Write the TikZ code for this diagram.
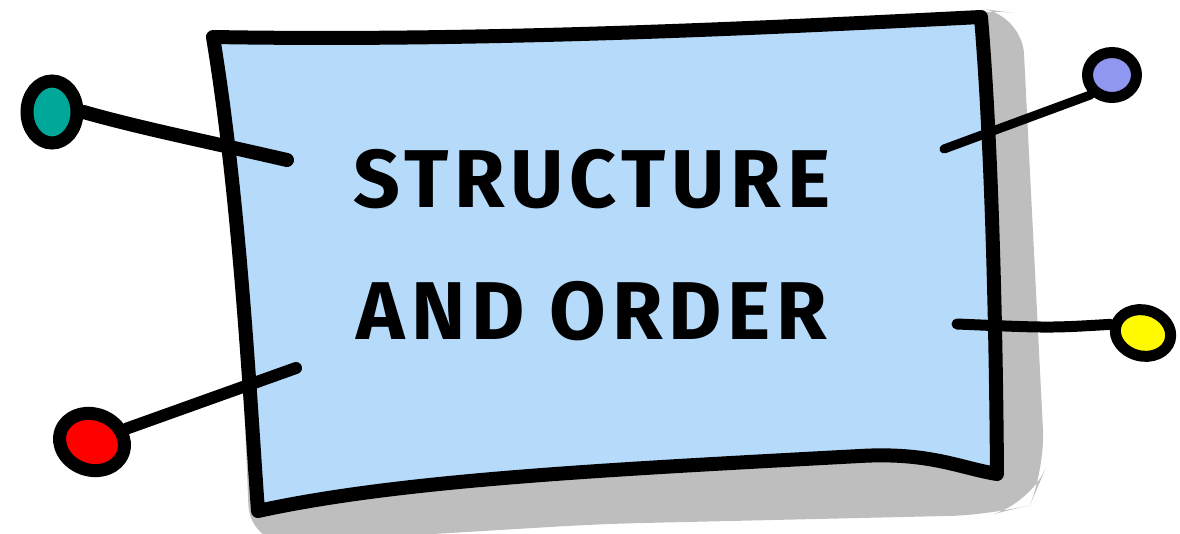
\documentclass[tikz,border=0pt]{standalone}
\usepackage{fontspec}
\usepackage{tikz}
\usetikzlibrary{shapes.geometric}
\newfontfamily\signfont[LetterSpace=7]{Fira Sans}
\definecolor{sky}{RGB}{181,218,250}
\definecolor{shadowgray}{RGB}{190,190,190}
\definecolor{teal}{RGB}{0,168,154}
\definecolor{pinred}{RGB}{255,0,0}
\definecolor{lilac}{RGB}{144,151,240}
\definecolor{lemon}{RGB}{255,250,0}
\tikzset{
  sign/.style={draw=black,line width=7pt,line join=round,fill=sky},
  pin/.style={ellipse,draw=black,line width=6.5pt,inner sep=0pt},
  string/.style={black,line width=6pt,line cap=round},
  label/.style={font=\signfont\bfseries\fontsize{41}{66}\selectfont,align=center,text=black},
}
\begin{document}
\begin{tikzpicture}[x=0.5pt,y=-0.5pt]
\useasboundingbox (0,0) rectangle (1180,534);
% shadow behind the sign
\fill[shadowgray,rounded corners=20pt] (975,8) -- (1022,14) -- (1045,470) -- (1030,505) -- (990,515) -- (600,524) -- (250,545) -- (240,300) -- (600,100) -- cycle;
% the sign itself
\draw[sign] (213,37) .. controls (500,42) and (800,26) .. (981,17)
  .. controls (992,150) and (996,330) .. (997,474)
  .. controls (960,468) and (930,452) .. (860,456)
  .. controls (600,470) and (400,480) .. (258,511)
  .. controls (250,400) and (240,200) .. cycle;
\node[label] (title) at (592,245) {STRUCTURE\\AND ORDER};
% pins
\node[pin,fill=teal,minimum width=25pt,minimum height=31pt] (tealpin) at (52,112) {};
\node[pin,fill=pinred,minimum width=33pt,minimum height=28pt,rotate=-20] (redpin) at (92,442) {};
\node[pin,fill=lilac,line width=5.5pt,minimum width=24.5pt,minimum height=22.5pt] (lilacpin) at (1112,75) {};
\node[pin,fill=lemon,line width=5.5pt,minimum width=28pt,minimum height=23pt,rotate=-15] (lemonpin) at (1143,333) {};
\coordinate (tealend) at (287,160);
\coordinate (redend) at (296,368);
\coordinate (lilacend) at (944,149);
\coordinate (lemonend) at (957,324);
\draw[string,line width=7pt] (tealpin.east) .. controls (140,128) and (200,140) .. (tealend);
\draw[string] (redpin.north east) -- (redend);
\draw[string,line width=4.5pt] (lilacpin.south west) -- (lilacend);
\draw[string,line width=5.5pt] (lemonpin.west) .. controls (1050,328) .. (lemonend);
\end{tikzpicture}
\end{document}
